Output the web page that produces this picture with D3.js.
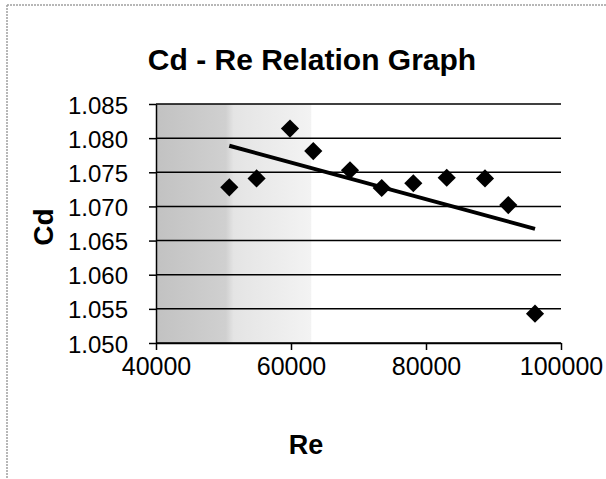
<!DOCTYPE html>
<html>
<head>
<meta charset="utf-8">
<script src="https://cdn.jsdelivr.net/npm/d3@7"></script>
<style>
  body { margin: 0; background: #fff; }
  text { font-family: "Liberation Sans", Arial, sans-serif; fill: #000; }
</style>
</head>
<body>
<div id="chart"></div>
<script>
// Re (x) and Cd (y)
const reValues = [50860, 54900, 59850, 63300, 68740, 73440, 78120, 83070, 88740, 92190, 96150];
const cdValues = [1.0728, 1.0741, 1.0814, 1.0781, 1.0753, 1.0727, 1.0734, 1.0742, 1.0741, 1.0702, 1.0543];
const xTicks = [40000, 60000, 80000, 100000];
const yTicks = [1.050, 1.055, 1.060, 1.065, 1.070, 1.075, 1.080, 1.085];

const config = {
  width: 606,
  height: 479,
  margin: { top: 104, right: 45, bottom: 136, left: 156 },
};

const innerW = config.width - config.margin.left - config.margin.right;
const innerH = config.height - config.margin.top - config.margin.bottom;

const svg = d3.select('#chart').append('svg')
  .attr('width', config.width)
  .attr('height', config.height);

// scanned frame: only top and left edges are visible
svg.append('line')
  .attr('x1', 7).attr('x2', 606).attr('y1', 5).attr('y2', 5)
  .attr('stroke', '#a0a0a0').attr('stroke-width', 1.5).attr('stroke-dasharray', '2,1');
svg.append('line')
  .attr('x1', 7).attr('x2', 7).attr('y1', 5).attr('y2', 479)
  .attr('stroke', '#a0a0a0').attr('stroke-width', 1.5).attr('stroke-dasharray', '2,1');

const xScale = d3.scaleLinear().domain([40000, 100000]).range([0, innerW]);
const yScale = d3.scaleLinear().domain([1.050, 1.085]).range([innerH, 0]);

const chart = svg.append('g')
  .attr('transform', `translate(${config.margin.left},${config.margin.top})`);

// grey scan shading on the left part of the plot
const defs = svg.append('defs');
const grad = defs.append('linearGradient').attr('id', 'shade')
  .attr('x1', '0%').attr('x2', '100%');
grad.append('stop').attr('offset', '0%').attr('stop-color', '#c2c2c2');
grad.append('stop').attr('offset', '45%').attr('stop-color', '#d0d0d0');
grad.append('stop').attr('offset', '50%').attr('stop-color', '#e4e4e4');
grad.append('stop').attr('offset', '100%').attr('stop-color', '#f3f3f3');
chart.append('rect')
  .attr('x', 0).attr('y', 0)
  .attr('width', xScale(63000)).attr('height', innerH)
  .attr('fill', 'url(#shade)');

// gridlines
chart.selectAll('.grid')
  .data(yTicks)
  .join('line')
  .attr('class', 'grid')
  .attr('x1', 0).attr('x2', innerW)
  .attr('y1', (d) => yScale(d)).attr('y2', (d) => yScale(d))
  .attr('stroke', '#000').attr('stroke-width', 1.5);

const yAxis = d3.axisLeft(yScale)
  .tickValues(yTicks)
  .tickFormat(d3.format('.3f'))
  .tickSize(7)
  .tickSizeOuter(0);
const yAxisG = chart.append('g').call(yAxis);
yAxisG.selectAll('text')
  .attr('x', -28)
  .attr('dy', '0.38em')
  .style('font-size', '24px');

const xAxis = d3.axisBottom(xScale)
  .tickValues(xTicks)
  .tickFormat(d3.format('d'))
  .tickSize(7)
  .tickSizeOuter(0);
const xAxisG = chart.append('g')
  .attr('transform', `translate(0,${innerH})`)
  .call(xAxis);
xAxisG.selectAll('text')
  .attr('y', 32)
  .attr('dy', 0)
  .style('font-size', '25px');

[yAxisG, xAxisG].forEach((g) => {
  g.select('.domain').attr('stroke', '#000').attr('stroke-width', 1.5);
  g.selectAll('.tick line').attr('stroke', '#000').attr('stroke-width', 1.5);
});

// least-squares trend line, as in the original spreadsheet chart
const mx = d3.mean(reValues);
const my = d3.mean(cdValues);
const sxy = d3.sum(reValues, (x, i) => (x - mx) * (cdValues[i] - my));
const sxx = d3.sum(reValues, (x) => (x - mx) ** 2);
const slope = sxy / sxx;
const intercept = my - slope * mx;
const xExtent = d3.extent(reValues);

chart.append('path')
  .datum(xExtent)
  .attr('d', d3.line()
    .x((d) => xScale(d))
    .y((d) => yScale(intercept + slope * d)))
  .attr('stroke', '#000')
  .attr('stroke-width', 4)
  .attr('fill', 'none');

const points = reValues.map((x, i) => ({ x, y: cdValues[i] }));
chart.selectAll('.pt')
  .data(points)
  .join('path')
  .attr('class', 'pt')
  .attr('d', d3.symbol(d3.symbolSquare, 165))
  .attr('transform', (d) => `translate(${xScale(d.x)},${yScale(d.y)}) rotate(45)`)
  .attr('fill', '#000');

svg.append('text')
  .attr('x', 312).attr('y', 70)
  .attr('text-anchor', 'middle')
  .style('font-size', '30px')
  .style('font-weight', 'bold')
  .text('Cd - Re Relation Graph');

svg.append('text')
  .attr('transform', 'translate(53,227) rotate(-90)')
  .attr('text-anchor', 'middle')
  .style('font-size', '28px')
  .style('font-weight', 'bold')
  .text('Cd');

svg.append('text')
  .attr('x', 306).attr('y', 454)
  .attr('text-anchor', 'middle')
  .style('font-size', '27px')
  .style('font-weight', 'bold')
  .text('Re');
</script>
</body>
</html>
